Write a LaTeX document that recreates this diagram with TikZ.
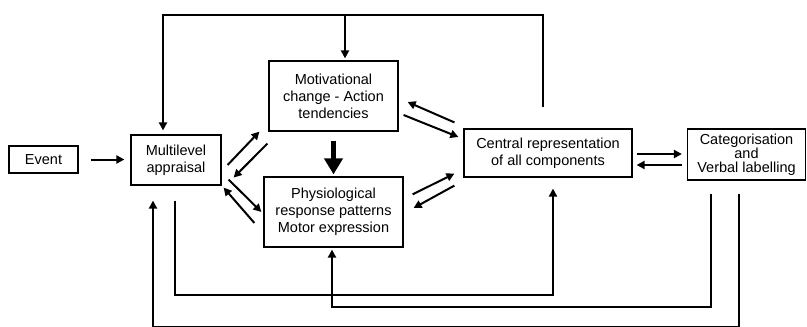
\documentclass[tikz,border=0pt]{standalone}
\usepackage{fontspec}
\setmainfont{Liberation Sans}
\usepackage{tikz}
\usetikzlibrary{positioning,arrows.meta,calc}

\begin{document}
\begin{tikzpicture}[x=1pt,y=-1pt,
    box/.style={draw,line width=1.2pt,align=center,inner sep=0pt,font=\fontsize{14.5}{17}\selectfont},
    arr/.style={line width=2pt,-{Triangle[length=8pt,width=8pt]}},
    bigarr/.style={line width=5pt,-{Triangle[length=16pt,width=18pt]}}]
    \useasboundingbox (0,0) rectangle (807,327);
    % boxes
    \node[box,minimum width=69pt,minimum height=27pt] (event) at (43.5,159.5) {Event};
    \node[box,minimum width=90pt,minimum height=50pt] (appraisal) at (176,160) {Multilevel\\appraisal};
    \node[box,minimum width=129pt,minimum height=70pt] (motiv) at (333.5,96) {Motivational\\change - Action\\tendencies};
    \node[box,minimum width=139pt,minimum height=70pt] (physio) at (333.5,212) {Physiological\\response patterns\\Motor expression};
    \node[box,minimum width=168pt,minimum height=48pt] (central) at (548,153) {Central representation\\of all components};
    \node[box,minimum width=118pt,minimum height=51pt,font=\fontsize{14.5}{13.5}\selectfont] (categ) at (746.5,154.5) {Categorisation\\and\\Verbal labelling};
    % straight arrows
    \draw[arr,shorten <=12pt,shorten >=6pt] (event.east) -- (event.east -| appraisal.west);
    \draw[bigarr,shorten <=9pt,shorten >=2pt] (motiv.south) -- (physio.north);
    \draw[arr] ([shift={(6,5)}]appraisal.east) -- ([shift={(-9,0)}]motiv.south west);
    \draw[arr] ([shift={(-1,12)}]motiv.south west) -- ([shift={(12,-8)}]appraisal.south east);
    \draw[arr] ([shift={(7,-6)}]appraisal.south east) -- ([shift={(-2,0)}]physio.west);
    \draw[arr] ([shift={(-9,11)}]physio.west) -- ([shift={(2,2)}]appraisal.south east);
    \draw[arr] ([shift={(-9,-6)}]central.north west) -- ([shift={(9,6)}]motiv.east);
    \draw[arr] ([shift={(5,19)}]motiv.east) -- ([shift={(-5,-16)}]central.west);
    \draw[arr] ([shift={(9,18)}]physio.north east) -- ([shift={(-9,-4)}]central.south west);
    \draw[arr] ([shift={(-9,8)}]central.south west) -- ([shift={(10,-4)}]physio.east);
    \draw[arr] ([shift={(4,1)}]central.east) -- ([shift={(-5,-0.5)}]categ.west);
    \draw[arr] ([shift={(-5,10.5)}]categ.west) -- ([shift={(4,12)}]central.east);
    % feedback loops
    \draw[arr] ([shift={(-5,-21)}]central.north) -- ++(0,-92) -| ([shift={(-13,-4)}]appraisal.north);
    \draw[arr] ([shift={(11.5,-45)}]motiv.north) -- ([shift={(11.5,-2)}]motiv.north);
    \draw[arr] ([shift={(-1,15)}]appraisal.south) -- ++(0,94) -| ([shift={(5,11)}]central.south);
    \draw[arr] ([shift={(-35.5,13)}]categ.south) -- ++(0,113) -| ([shift={(-1.5,2)}]physio.south);
    \draw[arr] ([shift={(-7.5,13)}]categ.south) -- ++(0,133) -| ([shift={(-23,15)}]appraisal.south);
\end{tikzpicture}
\end{document}
